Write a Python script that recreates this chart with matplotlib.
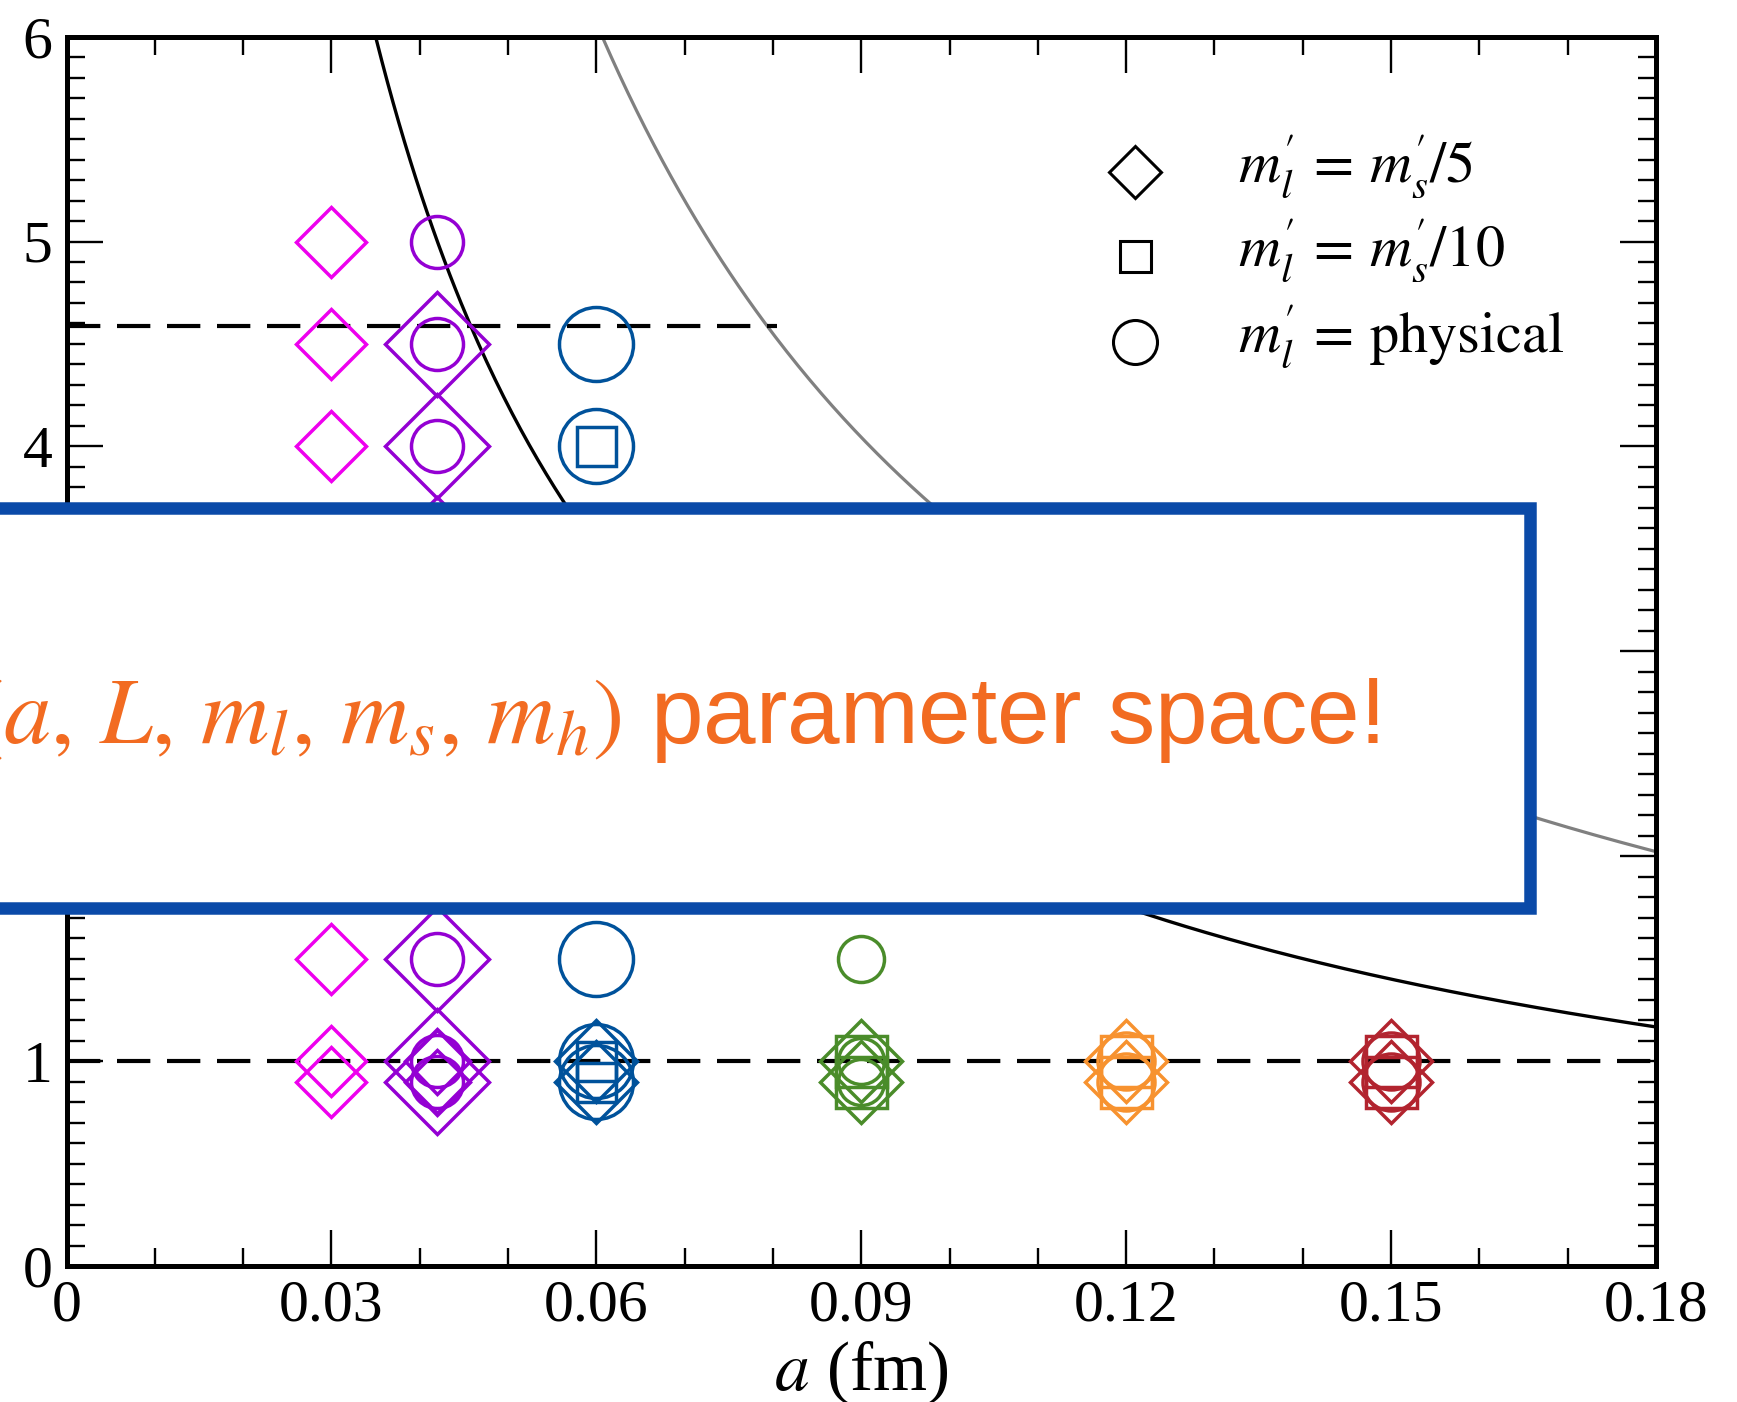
import numpy as np
import matplotlib.pyplot as plt
from matplotlib.patches import Rectangle

plt.rcParams['font.family'] = ['Liberation Serif', 'DejaVu Serif']
plt.rcParams['mathtext.fontset'] = 'stix'

# ensembles: lattice spacing a (fm)
a_fm = [0.03, 0.042, 0.042, 0.06, 0.09, 0.12, 0.15]

# m_h'/m_c' values of each ensemble, for the three light-quark choices
y_ms5 = [[5.0, 4.5, 4.0, 1.5, 1.0, 0.9],
         [4.5, 4.0, 3.5, 1.5, 1.0, 0.9],
         [1.0, 0.9],
         [1.0, 0.9],
         [1.0, 0.9],
         [1.0, 0.9],
         [1.0, 0.9]]
y_ms10 = [[], [], [], [4.0, 1.0, 0.9], [1.0, 0.9], [1.0, 0.9], [1.0, 0.9]]
y_phys = [[],
          [5.0, 4.5, 4.0, 1.5, 1.0, 0.9],
          [],
          [4.5, 4.0, 1.5, 1.0, 0.9],
          [1.5, 1.0, 0.9],
          [1.0, 0.9],
          [1.0, 0.9]]

# a * (m_h'/m_c') along the two cut-off curves, and the m_b/m_c line
cut_black = 0.21
cut_gray = 0.364
mb_over_mc = 4.59
mb_line_end = 0.0805

x_ticks = [0, 0.03, 0.06, 0.09, 0.12, 0.15, 0.18]
x_ticklabels = ['0', '0.03', '0.06', '0.09', '0.12', '0.15', '0.18']
y_ticks = [0, 1, 2, 3, 4, 5, 6]
y_ticklabels = ['0', '1', '2', '3', '4', '5', '6']

legend_labels = [r'$m^{\prime}_{l}\, =\, m^{\prime}_{s}/5$',
                 r'$m^{\prime}_{l}\, =\, m^{\prime}_{s}/10$',
                 r'$m^{\prime}_{l}\, =\, \mathrm{physical}$']

# styles
colors = ['#ee00ee', '#9400d3', '#9400d3', '#00529b', '#4a8c2a', '#f7922f', '#b2242f']
diam_px = [70, 105, 65, 83, 83, 83, 83]
sq_px = [0, 0, 0, 39, 51, 51, 51]
circ_px = [0, 52, 0, 74, 46, 57, 57]

DPI = 100
px = 72.0 / DPI

fig = plt.figure(figsize=(17.37, 14.02), dpi=DPI)
ax = fig.add_axes([66.5 / 1737, 1 - 1266 / 1402, 1589.5 / 1737, 1229.4 / 1402])

# cut-off curves
a_curve = np.linspace(0.02, 0.18, 500)
ax.plot(a_curve, cut_black / a_curve, color='black', lw=2.4)
ax.plot(a_curve, cut_gray / a_curve, color='#808080', lw=2.3)

# dashed reference lines
ax.axhline(1.0, color='black', lw=3, dashes=(8, 4))
ax.plot([0, mb_line_end], [mb_over_mc, mb_over_mc], color='black', lw=3, dashes=(8, 4))

mew = 2.5
for i, a in enumerate(a_fm):
    if y_ms5[i]:
        ax.plot([a] * len(y_ms5[i]), y_ms5[i], ls='none', marker='D',
                ms=diam_px[i] * px / np.sqrt(2), mfc='none', mec=colors[i], mew=mew)
    if y_ms10[i]:
        ax.plot([a] * len(y_ms10[i]), y_ms10[i], ls='none', marker='s',
                ms=sq_px[i] * px, mfc='none', mec=colors[i], mew=mew)
    if y_phys[i]:
        ax.plot([a] * len(y_phys[i]), y_phys[i], ls='none', marker='o',
                ms=circ_px[i] * px, mfc='none', mec=colors[i], mew=mew)

# legend drawn by hand
leg_marker = ['D', 's', 'o']
leg_ms = [53 * px / np.sqrt(2), 31 * px, 44 * px]
leg_y = [5.34, 4.93, 4.51]
for m, ms, yy, lab in zip(leg_marker, leg_ms, leg_y, legend_labels):
    ax.plot([0.121], [yy], ls='none', marker=m, ms=ms, mfc='none', mec='black', mew=2.2)
    ax.text(0.1327, yy - 0.05, lab, fontsize=42, va='baseline', ha='left')

ax.set_xlim(0, 0.18)
ax.set_ylim(0, 6)
ax.set_xticks(x_ticks)
ax.set_xticklabels(x_ticklabels)
ax.set_yticks(y_ticks)
ax.set_yticklabels(y_ticklabels)
ax.set_xticks(np.arange(0, 0.1801, 0.01), minor=True)
ax.set_yticks(np.arange(0, 6.001, 0.1), minor=True)
ax.tick_params(which='both', direction='in', top=True, right=True, labelsize=43)
ax.tick_params(which='major', length=26, width=1.7, pad=10)
ax.tick_params(which='minor', length=13, width=1.7)
for s in ax.spines.values():
    s.set_linewidth(3.6)

ax.set_xlabel(r'$a$ (fm)', fontsize=50, labelpad=4)

# overlay box with text
box = Rectangle((-0.02, 0.3524), 0.9008, 0.2853, transform=fig.transFigure,
                facecolor='white', edgecolor='#0a4aa8', lw=9, zorder=10)
fig.add_artist(box)
fig.text(1379 / 1737, 1 - 743 / 1402,
         r'$(a,\, L,\, m_l,\, m_s,\, m_h)$ parameter space!',
         ha='right', va='baseline', color='#f26b21', fontsize=68,
         family=['Liberation Sans', 'DejaVu Sans'], zorder=11)

fig.savefig('out.png', dpi=DPI)
